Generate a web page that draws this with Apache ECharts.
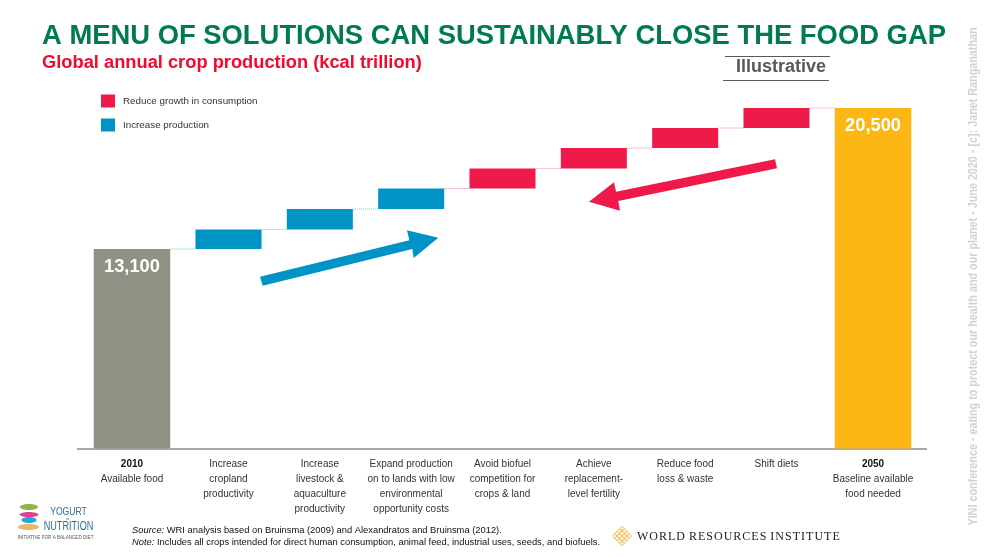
<!DOCTYPE html>
<html><head><meta charset="utf-8">
<style>html,body{margin:0;padding:0;background:#fff}#c{width:993px;height:557px}</style>
<script src="https://cdn.jsdelivr.net/npm/echarts@6/dist/echarts.min.js"></script>
</head><body><div id="c"></div>
<script>
// ---- data ----
const categories = [
  '{b|2010}\nAvailable food',
  'Increase\ncropland\nproductivity',
  'Increase\nlivestock &\naquaculture\nproductivity',
  'Expand production\non to lands with low\nenvironmental\nopportunity costs',
  'Avoid biofuel\ncompetition for\ncrops & land',
  'Achieve\nreplacement-\nlevel fertility',
  'Reduce food\nloss & waste',
  'Shift diets',
  '{b|2050}\nBaseline available\nfood needed'
];
const axisFloor = 2630;              // the drawn axis is truncated: 13,100 stands well under proportional height
const levelFrom = [axisFloor, 13100, 14125, 15200, 16275, 17325, 18400, 19450, axisFloor];
const levelTo   = [13100, 14125, 15200, 16275, 17325, 18400, 19450, 20500, 20500];
const increaseIdx = [1, 2, 3];
const reduceIdx   = [4, 5, 6, 7];
const totalIdx    = [0, 8];
const totalLabels = ['13,100', '', '', '', '', '', '', '', '20,500'];

// ---- styling ----
const RED = '#f01a4a', BLUE = '#0093c6', GREY = '#909084', GOLD = '#fdb714';
const SANS = '"Liberation Sans",Arial,sans-serif';
const labelNudge = [-5.2, 0, 0, 0, 0, 0, 0, 0, 5.2];
const stepWidth = 0.723, totalWidth = 0.838;

function widthOf(i, band) { return (totalIdx.includes(i) ? totalWidth : stepWidth) * band; }
function centre(i, api) { return api.coord([i, 0])[0] + labelNudge[i]; }

function makeRender(fillFn, dotFn) {
  return function (params, api) {
    const i = api.value(0), band = api.size([1, 0])[0];
    const cx = centre(i, api), w = widthOf(i, band);
    const y0 = api.coord([i, api.value(1)])[1], y1 = api.coord([i, api.value(2)])[1];
    const children = [{
      type: 'rect',
      shape: { x: cx - w / 2, y: y1, width: w, height: y0 - y1 },
      style: { fill: fillFn(i) }
    }];
    if (i > 0) {
      const prevRight = centre(i - 1, api) + widthOf(i - 1, band) / 2;
      const yc = api.coord([i, levelTo[i - 1]])[1];
      children.push({
        type: 'line',
        shape: { x1: prevRight, y1: yc, x2: cx - w / 2, y2: yc },
        style: { stroke: dotFn(i), lineWidth: 1, lineDash: [1, 1] }
      });
    }
    if (totalLabels[i]) {
      children.push({
        type: 'text',
        style: {
          text: totalLabels[i], x: cx, y: y1 + 17.5, align: 'center', verticalAlign: 'middle',
          fill: '#fff', font: 'bold 18.3px ' + SANS
        }
      });
    }
    return { type: 'group', children };
  };
}
const rows = idx => idx.map(i => [i, levelFrom[i], levelTo[i]]);

// ---- annotations drawn on the page ----
const ann = [];
ann.push({ type: 'line', z: 1, shape: { x1: 77, y1: 449, x2: 927, y2: 449 }, style: { stroke: '#a9a9a2', lineWidth: 2 } });
ann.push({ type: 'polygon', z: 5, shape: { points: [[260, 276.7], [262.7, 285.7], [412.3, 249], [413.7, 258], [438.3, 237.7], [407, 230.3], [409.3, 240.3]] }, style: { fill: BLUE } });
ann.push({ type: 'polygon', z: 5, shape: { points: [[775, 159.3], [777, 168.3], [618.3, 201], [620, 210.7], [589, 201.7], [614, 182.3], [616, 191.7]] }, style: { fill: RED } });
ann.push({ type: 'text', style: { text: 'A MENU OF SOLUTIONS CAN SUSTAINABLY CLOSE THE FOOD GAP', x: 42, y: 36.5, verticalAlign: 'middle', fill: '#007a53', font: 'bold 27.4px ' + SANS } });
ann.push({ type: 'text', style: { text: 'Global annual crop production (kcal trillion)', x: 42, y: 62.5, verticalAlign: 'middle', fill: '#f5082c', font: 'bold 18.3px ' + SANS } });
ann.push({ type: 'text', style: { text: 'Illustrative', x: 781, y: 67, align: 'center', verticalAlign: 'middle', fill: '#58595b', font: 'bold 18px ' + SANS } });
ann.push({ type: 'line', shape: { x1: 725, y1: 56.5, x2: 830, y2: 56.5 }, style: { stroke: '#58595b', lineWidth: 1 } });
ann.push({ type: 'line', shape: { x1: 723, y1: 80.5, x2: 829, y2: 80.5 }, style: { stroke: '#58595b', lineWidth: 1 } });
ann.push({ type: 'text', style: {
  x: 132, y: 530, verticalAlign: 'middle', fill: '#111', font: '9.35px ' + SANS,
  text: '{i|Source:} WRI analysis based on Bruinsma (2009) and Alexandratos and Bruinsma (2012).',
  rich: { i: { font: 'italic 9.35px ' + SANS, fill: '#111' } }
} });
ann.push({ type: 'text', style: {
  x: 132, y: 542, verticalAlign: 'middle', fill: '#111', font: '9.35px ' + SANS,
  text: '{i|Note:} Includes all crops intended for direct human consumption, animal feed, industrial uses, seeds, and biofuels.',
  rich: { i: { font: 'italic 9.35px ' + SANS, fill: '#111' } }
} });
ann.push({ type: 'text', rotation: Math.PI / 2, x: 973.5, y: 276.5, scaleX: 0.862, style: {
  text: 'YINI conference - eating to protect our health and our planet - June 2020 - [c]: Janet Ranganathan',
  x: 0, y: 0, align: 'center', verticalAlign: 'middle', fill: '#d2d2d2', font: 'bold 12.5px ' + SANS
} });
// Yogurt in Nutrition logo
[[29, 507, 9, 3, '#8db54b'], [29, 514.5, 9.5, 2.6, '#d9468f'], [29, 520, 7.5, 3, '#22a7d8'], [28.5, 527, 10.5, 3, '#e8b96a']].forEach(e => {
  ann.push({ type: 'ellipse', shape: { cx: e[0], cy: e[1], rx: e[2], ry: e[3] }, style: { fill: e[4] } });
});
ann.push({ type: 'text', x: 68.5, y: 511.5, scaleX: 0.75, style: { text: 'YOGURT', x: 0, y: 0, align: 'center', verticalAlign: 'middle', fill: '#2d6f9f', font: '11.5px ' + SANS } });
ann.push({ type: 'text', style: { text: 'in', x: 67.5, y: 518.5, align: 'center', verticalAlign: 'middle', fill: '#2d6f9f', font: '4px ' + SANS } });
ann.push({ type: 'text', x: 68.5, y: 526.5, scaleX: 0.73, style: { text: 'NUTRITION', x: 0, y: 0, align: 'center', verticalAlign: 'middle', fill: '#2d6f9f', font: '12.5px ' + SANS } });
ann.push({ type: 'text', style: { text: 'INITIATIVE FOR A BALANCED DIET', x: 55.5, y: 538, align: 'center', verticalAlign: 'middle', fill: '#555', font: '4.6px ' + SANS } });
// World Resources Institute logo
for (let a = 0; a < 4; a++) for (let b = 0; b < 4; b++) {
  const cx = 622 + (a - b) * 2.5, cy = 528.5 + (a + b) * 2.5;
  ann.push({ type: 'polygon', shape: { points: [[cx, cy - 2.2], [cx + 2.2, cy], [cx, cy + 2.2], [cx - 2.2, cy]] }, style: { fill: 'none', stroke: '#f2b632', lineWidth: 0.9 } });
}
ann.push({ type: 'text', style: { text: 'W O R L D  R E S O U R C E S  I N S T I T U T E'.replace(/ /g, '\u200a').replace(/\u200a\u200a/g, ' \u200a'), x: 637, y: 537, verticalAlign: 'middle', fill: '#222', font: '12px "Liberation Serif",serif' } });

const chart = echarts.init(document.getElementById('c'), null, { renderer: 'canvas' });
chart.setOption({
  animation: false,
  backgroundColor: '#fff',
  grid: { left: 91.5, right: 79.5, top: 108, bottom: 108.5 },
  legend: {
    orient: 'vertical', left: 96, top: 89.5, itemWidth: 14, itemHeight: 13, itemGap: 11,
    icon: 'rect', selectedMode: false,
    data: ['Reduce growth in consumption', 'Increase production'],
    textStyle: { fontFamily: SANS, fontSize: 9.8, color: '#333', padding: [0, 0, 0, 3] }
  },
  xAxis: {
    type: 'category',
    data: categories.map((c, i) => ({ value: c, textStyle: { padding: labelNudge[i] < 0 ? [0, -2 * labelNudge[i], 0, 0] : [0, 0, 0, 2 * labelNudge[i]] } })),
    axisTick: { show: false },
    axisLine: { show: false },
    axisLabel: {
      interval: 0, margin: 8, fontFamily: SANS, fontSize: 10, lineHeight: 15, color: '#333', verticalAlign: 'top',
      rich: { b: { fontFamily: SANS, fontWeight: 'bold', fontSize: 10, lineHeight: 15, color: '#111' } }
    }
  },
  yAxis: { type: 'value', min: axisFloor, max: 20500, show: false, splitLine: { show: false } },
  series: [
    { name: 'Reduce growth in consumption', type: 'custom', itemStyle: { color: RED }, encode: { x: 0, y: [1, 2] },
      data: rows(reduceIdx), renderItem: makeRender(() => RED, () => '#f58aa2') },
    { name: 'Increase production', type: 'custom', itemStyle: { color: BLUE }, encode: { x: 0, y: [1, 2] },
      data: rows(increaseIdx), renderItem: makeRender(() => BLUE, () => '#6fbfdd') },
    { name: 'Totals', type: 'custom', itemStyle: { color: GREY }, encode: { x: 0, y: [1, 2] },
      data: rows(totalIdx), renderItem: makeRender(i => (i === 0 ? GREY : GOLD), () => '#f58aa2') }
  ],
  graphic: ann
});
</script></body></html>
